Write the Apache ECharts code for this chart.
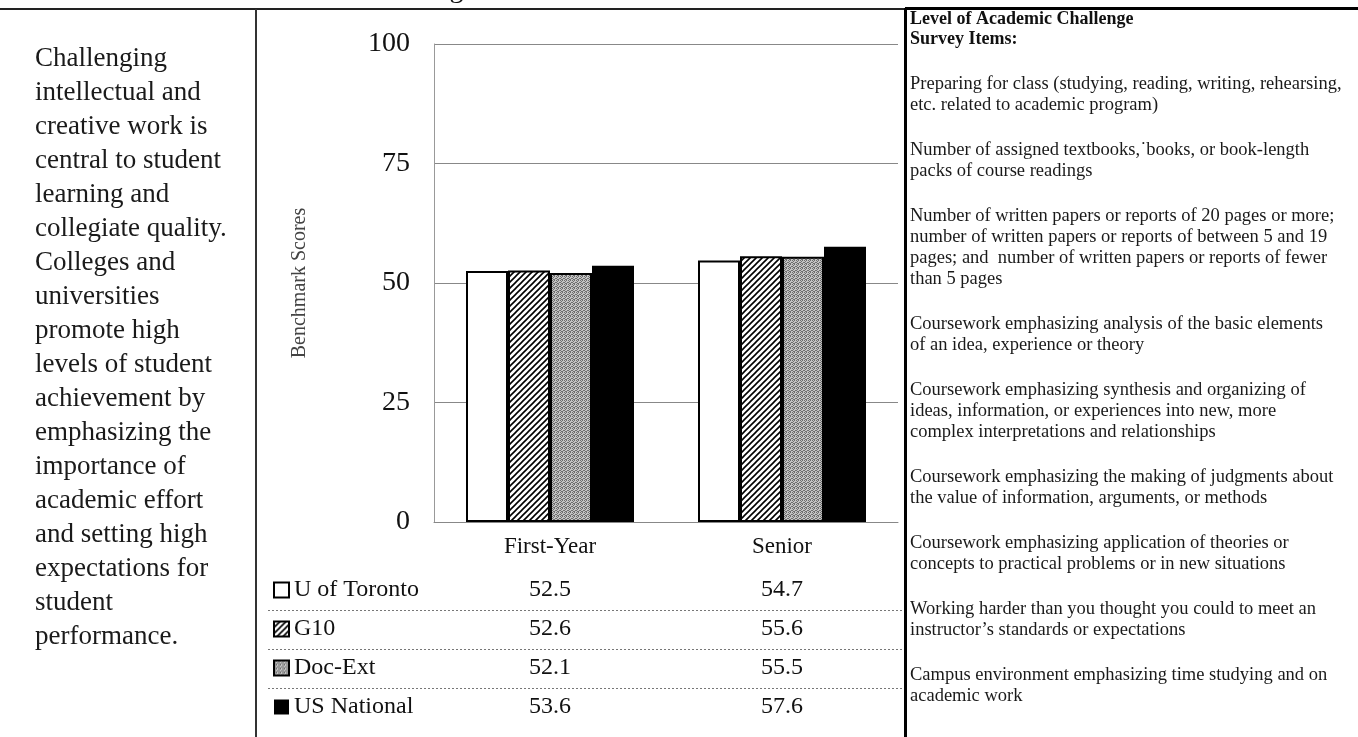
<!DOCTYPE html>
<html><head><meta charset="utf-8">
<script src="https://cdn.jsdelivr.net/npm/echarts@6/dist/echarts.min.js"></script>
<style>html,body{margin:0;padding:0;background:#fff;overflow:hidden}#c{width:1358px;height:737px}</style>
</head><body><div id="c"></div>
<script>
// ---------- data ----------
const categories = ['First-Year', 'Senior'];
const seriesNames = ['U of Toronto', 'G10', 'Doc-Ext', 'US National'];
const torontoValues = [52.5, 54.7];
const g10Values = [52.6, 55.6];
const docExtValues = [52.1, 55.5];
const usNationalValues = [53.6, 57.6];
const yTicks = [0, 25, 50, 75, 100];
const yAxisName = 'Benchmark Scores';
const pageTitle = 'Level of Academic Challenge';
const introLines = ['Challenging', 'intellectual and', 'creative work is', 'central to student',
  'learning and', 'collegiate quality.', 'Colleges and', 'universities', 'promote high',
  'levels of student', 'achievement by', 'emphasizing the', 'importance of', 'academic effort',
  'and setting high', 'expectations for', 'student', 'performance.'];
const panelTitleLines = ['Level of Academic Challenge', 'Survey Items:'];
const surveyItems = [
  ['Preparing for class (studying, reading, writing, rehearsing,', 'etc. related to academic program)'],
  ['Number of assigned textbooks,\u02d9books, or book-length', 'packs of course readings'],
  ['Number of written papers or reports of 20 pages or more;', 'number of written papers or reports of between 5 and 19', 'pages; and  number of written papers or reports of fewer', 'than 5 pages'],
  ['Coursework emphasizing analysis of the basic elements', 'of an idea, experience or theory'],
  ['Coursework emphasizing synthesis and organizing of', 'ideas, information, or experiences into new, more', 'complex interpretations and relationships'],
  ['Coursework emphasizing the making of judgments about', 'the value of information, arguments, or methods'],
  ['Coursework emphasizing application of theories or', 'concepts to practical problems or in new situations'],
  ['Working harder than you thought you could to meet an', 'instructor\u2019s standards or expectations'],
  ['Campus environment emphasizing time studying and on', 'academic work']
];
const seriesValues = [torontoValues, g10Values, docExtValues, usNationalValues];

// ---------- styles ----------
const SERIF = '"Liberation Serif", "Times New Roman", "DejaVu Serif", serif';
const INK = '#111';

function hatchCanvas() {
  const c = document.createElement('canvas'); c.width = 6; c.height = 6;
  const x = c.getContext('2d');
  x.fillStyle = '#fff'; x.fillRect(0, 0, 6, 6);
  x.strokeStyle = '#000'; x.lineWidth = 1.6;
  x.beginPath();
  x.moveTo(-1, 7); x.lineTo(7, -1);
  x.moveTo(-4, 4); x.lineTo(4, -4);
  x.moveTo(2, 10); x.lineTo(10, 2);
  x.stroke();
  return c;
}
function stippleCanvas() {
  const c = document.createElement('canvas'); c.width = 4; c.height = 4;
  const x = c.getContext('2d');
  x.fillStyle = '#c4c4c4'; x.fillRect(0, 0, 4, 4);
  x.fillStyle = '#6e6e6e';
  [[0,0],[2,0],[1,1],[3,2],[0,2],[2,3],[1,3]].forEach(p => x.fillRect(p[0], p[1], 1, 1));
  return c;
}
const fills = [
  '#ffffff',
  { image: hatchCanvas(), repeat: 'repeat' },
  { image: stippleCanvas(), repeat: 'repeat' },
  '#000000'
];

const rowY = [590, 629, 668, 707];

const chart = echarts.init(document.getElementById('c'), null, { renderer: 'canvas' });

const option = {
  animation: false,
  backgroundColor: '#fff',
  grid: { left: 434, right: 460, top: 44, bottom: 215, containLabel: false },
  xAxis: {
    type: 'category', data: categories,
    axisLine: { show: true, lineStyle: { color: '#888', width: 1 } },
    axisTick: { show: false },
    axisLabel: { fontFamily: SERIF, fontSize: 23, color: INK, margin: 13 }
  },
  yAxis: {
    type: 'value', min: yTicks[0], max: yTicks[yTicks.length - 1], interval: yTicks[1] - yTicks[0],
    name: yAxisName, nameLocation: 'middle', nameGap: 124, nameRotate: 90,
    nameTextStyle: { fontFamily: SERIF, fontSize: 20, color: '#444' },
    axisLine: { show: true, lineStyle: { color: '#999', width: 1 } },
    axisTick: { show: false },
    axisLabel: { fontFamily: SERIF, fontSize: 28, color: INK, margin: 24 },
    splitLine: { show: true, lineStyle: { color: '#888', width: 1 } }
  },
  legend: {
    orient: 'vertical', left: 268, top: rowY[0] - 17, itemWidth: 15, itemHeight: 15, itemGap: 15,
    icon: 'rect', data: seriesNames,
    textStyle: { fontFamily: SERIF, fontSize: 24, color: INK },
    selectedMode: false
  },
  series: seriesNames.map((name, i) => ({
    name, type: 'bar', data: seriesValues[i],
    barWidth: 42, barGap: '0%',
    itemStyle: { color: fills[i], borderColor: '#000', borderWidth: i === 3 ? 0 : 2 },
    emphasis: { disabled: true }
  }))
};
chart.setOption(option);

// ---------- page furniture and data table ----------
const g = [];
// cut-off page title at the very top (only the descender shows above the rule)
g.push({ type: 'text', z: 1,
  style: { x: 476, y: 4, text: pageTitle, textAlign: 'right', textVerticalAlign: 'bottom',
    font: '28px ' + SERIF, fill: INK } });
g.push({ type: 'rect', z: 5, shape: { x: 0, y: 8, width: 1358, height: 2 }, style: { fill: '#222' } });
g.push({ type: 'rect', z: 5, shape: { x: 905, y: 7, width: 453, height: 3 }, style: { fill: '#000' } });
g.push({ type: 'rect', z: 5, shape: { x: 255, y: 9, width: 2, height: 728 }, style: { fill: '#333' } });
g.push({ type: 'rect', z: 5, shape: { x: 904, y: 8, width: 3, height: 729 }, style: { fill: '#000' } });

// intro text
introLines.forEach((t, i) => g.push({ type: 'text', z: 5,
  style: { x: 35, y: 59 + i * 34, text: t, textVerticalAlign: 'middle', font: '27px ' + SERIF, fill: '#1a1a1a' } }));

// right panel
panelTitleLines.forEach((t, i) => g.push({ type: 'text', z: 5,
  style: { x: 910, y: 19 + i * 20, text: t, textVerticalAlign: 'middle', font: 'bold 18px ' + SERIF, fill: INK } }));
let py = 84;
surveyItems.forEach(item => {
  item.forEach(t => {
    g.push({ type: 'text', z: 5,
      style: { x: 910, y: py, text: t, textVerticalAlign: 'middle', font: '18.5px ' + SERIF, fill: '#1a1a1a' } });
    py += 21;
  });
  py += 24;
});

// table separators
for (let r = 0; r < rowY.length - 1; r++) {
  const y = Math.round((rowY[r] + rowY[r + 1]) / 2) + 0.5;
  g.push({ type: 'line', z: 5, shape: { x1: 268, y1: y, x2: 902, y2: y },
    style: { stroke: '#777', lineWidth: 1, lineDash: [2, 2] } });
}
// table values
seriesValues.forEach((vals, r) => {
  vals.forEach((v, c) => {
    const x = chart.convertToPixel({ xAxisIndex: 0 }, categories[c]);
    g.push({ type: 'text', z: 5,
      style: { x: x, y: rowY[r], text: v.toFixed(1), textAlign: 'center', textVerticalAlign: 'middle',
        font: '24px ' + SERIF, fill: INK } });
  });
});

chart.setOption({ graphic: { elements: g } });
</script></body></html>
